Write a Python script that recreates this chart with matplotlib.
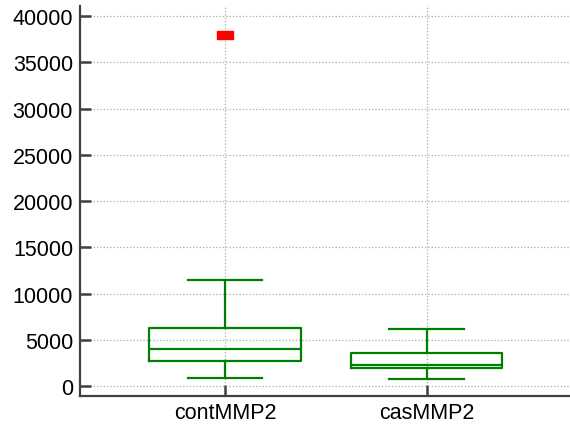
import matplotlib
matplotlib.use('Agg')
import matplotlib.pyplot as plt
from matplotlib.path import Path

plt.rcParams['font.family'] = ['Liberation Sans', 'DejaVu Sans']

# five-number summaries
labels = ['contMMP2', 'casMMP2']
whislo = [900, 790]
q1 = [2670, 1910]
med = [3970, 2300]
q3 = [6270, 3570]
whishi = [11460, 6130]
fliers = [[38000], []]

GREEN = '#008000'
AXC = '#404040'

stats = []
for i in range(len(labels)):
    stats.append(dict(label=labels[i], whislo=whislo[i], q1=q1[i], med=med[i],
                      q3=q3[i], whishi=whishi[i], fliers=fliers[i]))

fig = plt.figure(figsize=(5.7, 4.27), dpi=100)
ax = fig.add_axes([0.1404, 0.0703, 0.8596, 0.9133])

# wide flat rectangle marker for outliers
rect = Path([(-1, -0.5), (1, -0.5), (1, 0.5), (-1, 0.5), (-1, -0.5)],
            [Path.MOVETO, Path.LINETO, Path.LINETO, Path.LINETO, Path.CLOSEPOLY])

lw = 1.6
ax.bxp(stats, positions=[1, 2], widths=0.75,
       boxprops=dict(color=GREEN, linewidth=lw),
       medianprops=dict(color=GREEN, linewidth=lw),
       whiskerprops=dict(color=GREEN, linewidth=lw),
       capprops=dict(color=GREEN, linewidth=lw),
       capwidths=0.37,
       flierprops=dict(marker=rect, markersize=11.5, markerfacecolor='red',
                       markeredgecolor='red', linestyle='none'))

ax.set_xlim(0.282, 2.71)
ax.set_ylim(-1080, 41100)
ax.set_yticks(range(0, 40001, 5000))

ax.grid(True, linestyle=':', color='#aaaaaa', linewidth=0.9)
ax.set_axisbelow(True)

for s in ['top', 'right']:
    ax.spines[s].set_visible(False)
for s in ['left', 'bottom']:
    ax.spines[s].set_color(AXC)
    ax.spines[s].set_linewidth(1.6)

ax.tick_params(direction='in', length=8, width=1.8, color=AXC, labelsize=15.5,
               labelcolor='black')
ax.tick_params(axis='y', pad=5)
ax.tick_params(axis='x', pad=4)

fig.savefig('out.png', dpi=100)
